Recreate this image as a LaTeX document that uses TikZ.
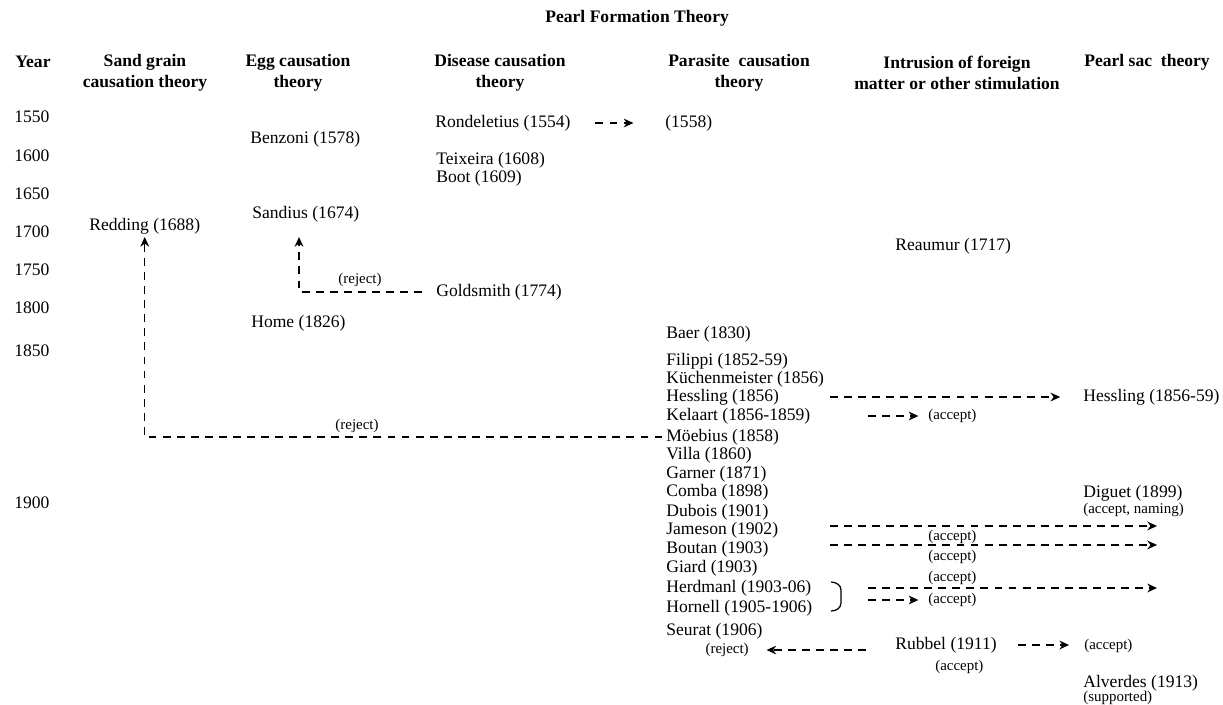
\documentclass[tikz,border=0pt]{standalone}
\usepackage{fontspec}
\setmainfont{Liberation Serif}
\usetikzlibrary{arrows.meta}
\tikzset{
  txt/.style={anchor=west, inner sep=0pt, font=\fontsize{10}{12}\selectfont},
  tag/.style={inner sep=0pt, font=\fontsize{8.5}{10}\selectfont},
  head/.style={inner sep=0pt, align=center, font=\bfseries\fontsize{10}{12}\selectfont},
  link/.style={line width=0.8pt, dash pattern=on 4.5pt off 3.5pt, -{Stealth[length=5.5pt,width=5pt]}},
}
\begin{document}
\begin{tikzpicture}[x=0.02cm,y=-0.02cm]
\useasboundingbox (0,0) rectangle (1223,704);
\node[head,anchor=west] (title) at (545,18) {Pearl Formation Theory};
\node[head] (hyear) at (33,62) {Year};
\node[head] (hsand) at (145,72.5) {Sand grain\\causation theory};
\node[head] (hegg) at (298,72.5) {Egg causation\\theory};
\node[head] (hdis) at (500,72.5) {Disease causation\\theory};
\node[head] (hpar) at (739,72.5) {Parasite~~causation\\theory};
\node[head] (hint) at (957,72.5) {Intrusion of foreign\\matter or other stimulation};
\node[head] (hsac) at (1147,62) {Pearl sac~~theory};
\node[txt] (y1550) at (14,117) {1550};
\node[txt] (y1600) at (14,156) {1600};
\node[txt] (y1650) at (14,194) {1650};
\node[txt] (y1700) at (14,232) {1700};
\node[txt] (y1750) at (14,270) {1750};
\node[txt] (y1800) at (14,308) {1800};
\node[txt] (y1850) at (14,351) {1850};
\node[txt] (y1900) at (14,503) {1900};
\node[txt] (redding) at (89,226) {Redding (1688)};
\node[txt] (benzoni) at (250,139) {Benzoni (1578)};
\node[txt] (sandius) at (252,214) {Sandius (1674)};
\node[txt] (home) at (251,323) {Home (1826)};
\node[txt] (rondel) at (435,123) {Rondeletius (1554)};
\node[txt] (teixeira) at (436,160) {Teixeira (1608)};
\node[txt] (boot) at (436,178) {Boot (1609)};
\node[txt] (goldsmith) at (436,292) {Goldsmith (1774)};
\node[txt] (p1558) at (665,123) {(1558)};
\node[txt] (baer) at (666,334) {Baer (1830)};
\node[txt] (filippi) at (666,361) {Filippi (1852-59)};
\node[txt] (kuchen) at (666,379) {Küchenmeister (1856)};
\node[txt] (hesslingA) at (666,397) {Hessling (1856)};
\node[txt] (kelaart) at (666,416) {Kelaart (1856-1859)};
\node[txt] (moebius) at (666,437) {Möebius (1858)};
\node[txt] (villa) at (666,455) {Villa (1860)};
\node[txt] (garner) at (666,474) {Garner (1871)};
\node[txt] (comba) at (666,492) {Comba (1898)};
\node[txt] (dubois) at (666,512) {Dubois (1901)};
\node[txt] (jameson) at (666,530) {Jameson (1902)};
\node[txt] (boutan) at (666,549) {Boutan (1903)};
\node[txt] (giard) at (666,568) {Giard (1903)};
\node[txt] (herdmanl) at (666,588) {Herdmanl (1903-06)};
\node[txt] (hornell) at (666,608) {Hornell (1905-1906)};
\node[txt] (seurat) at (666,631) {Seurat (1906)};
\node[txt] (reaumur) at (895,246) {Reaumur (1717)};
\node[txt] (rubbel) at (895,645) {Rubbel (1911)};
\node[txt] (hesslingB) at (1083,397) {Hessling (1856-59)};
\node[txt] (diguet) at (1083,493) {Diguet (1899)};
\node[tag,anchor=west] (naming) at (1083,510) {(accept, naming)};
\node[txt] (alverdes) at (1083,683) {Alverdes (1913)};
\node[tag,anchor=west] (supported) at (1083,698) {(supported)};
\node[tag] (rejG) at (360,280) {(reject)};
\node[tag] (rejM) at (357,426) {(reject)};
\node[tag,anchor=west] (accK) at (928,416) {(accept)};
\node[tag,anchor=west] (accJ) at (928,537) {(accept)};
\node[tag,anchor=west] (accB) at (928,557) {(accept)};
\node[tag,anchor=west] (accD) at (928,578) {(accept)};
\node[tag,anchor=west] (accH) at (928,600) {(accept)};
\node[tag,anchor=east] (rejS) at (749,650) {(reject)};
\node[tag,anchor=west] (accU) at (935,667) {(accept)};
\node[tag,anchor=west] (accR) at (1084,646) {(accept)};
\coordinate (sandtip) at (299,237);
\coordinate (lane) at (830,0);
\coordinate (lane2) at (868,0);
\coordinate (lane3) at (1157,0);
\draw[link, shorten <=14pt, shorten >=18pt] (rondel.east) -- (p1558.west);
\draw[link, shorten <=8pt] (goldsmith.west) -| (sandtip);
\draw[link, shorten <=2pt, shorten >=1.5pt] (moebius.west) -| (redding.south);
\draw[link, shorten >=13pt] (hesslingA -| lane) -- (hesslingB.west);
\draw[link, shorten >=5.5pt] (kelaart -| lane2) -- (accK.west);
\draw[link] ([yshift=2.3pt]jameson -| lane) -- ([yshift=2.3pt]jameson -| lane3);
\draw[link] ([yshift=2.3pt]boutan -| lane) -- ([yshift=2.3pt]boutan -| lane3);
\draw[link] (herdmanl -| lane2) -- (herdmanl -| lane3);
\draw[link, shorten >=5.5pt] (accH -| lane2) -- (accH.west);
\draw[link, shorten <=16.5pt, shorten >=10pt] (rejS -| rubbel.west) -- (rejS.east);
\draw[link, shorten <=12pt, shorten >=8.5pt] (rubbel.east) -- (rubbel.east -| accR.west);
\draw[line width=0.7pt] (831,582) to[out=0,in=90] (841,590) -- (841,603) to[out=-90,in=0] (831,611);
\end{tikzpicture}
\end{document}
